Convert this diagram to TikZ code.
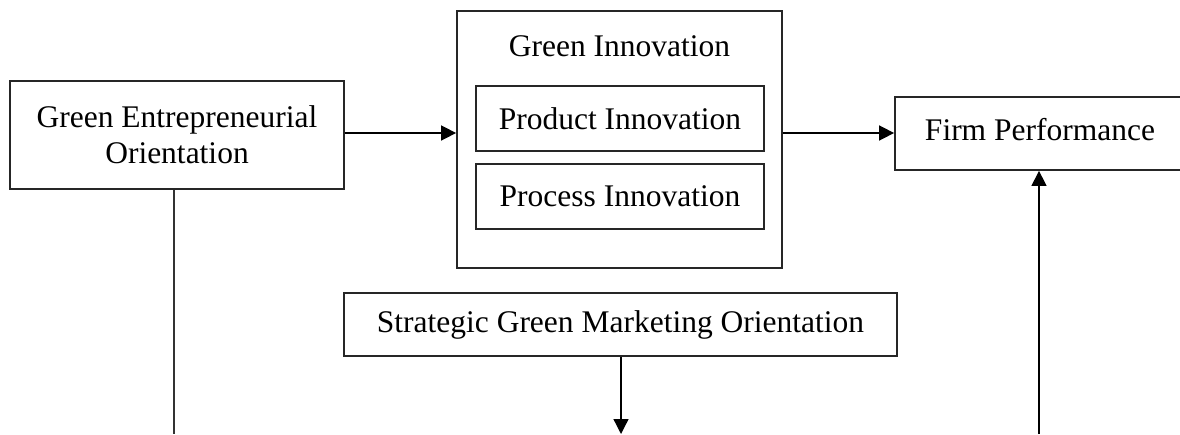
\documentclass[tikz,border=0pt]{standalone}
\usepackage{fontspec}
\setmainfont{Liberation Serif}
\usetikzlibrary{arrows.meta}
\begin{document}
\begin{tikzpicture}[x=1pt,y=-1pt,
  boxstyle/.style={draw=black!85, line width=1.8pt, inner sep=0pt, align=center,
    font=\fontsize{31.5}{36}\selectfont},
  conn/.style={line width=1.6pt, -{Triangle[length=15pt,width=15pt]}},
  plainline/.style={line width=1.5pt, draw=black!80}]
\useasboundingbox (0,0) rectangle (1180,434);
\clip (0,0) rectangle (1180,434);
% Green Entrepreneurial Orientation
\node[boxstyle, minimum width=334pt, minimum height=108pt] (geo) at (177,135)
  {Green Entrepreneurial\\Orientation};
% Green Innovation outer box
\node[boxstyle, minimum width=325pt, minimum height=257pt] (gi) at (619.5,139.5) {};
\node[font=\fontsize{31.5}{36}\selectfont, inner sep=0pt] (gititle) at (619.5,46) {Green Innovation};
\node[boxstyle, minimum width=288pt, minimum height=65pt] (prod) at (620,118.5) {Product Innovation};
\node[boxstyle, minimum width=288pt, minimum height=65pt] (proc) at (620,196.5) {Process Innovation};
% Firm Performance (extends past right edge)
\node[boxstyle, minimum width=330pt, minimum height=73pt] (fp) at (1060,133.5) {};
\node[font=\fontsize{31.5}{36}\selectfont, inner sep=0pt] (fptext) at (1040,130) {Firm Performance};
% Strategic Green Marketing Orientation
\node[boxstyle, minimum width=553pt, minimum height=63pt] (sgmo) at (620.5,324.5)
  {Strategic Green Marketing Orientation};
% free ends
\coordinate (geoend) at (174,434);
\coordinate (sgmoend) at (621,434);
\coordinate (fpstart) at (1039,434);
% connectors
\draw[conn] (geo.east |- 0,133) -- (gi.west |- 0,133);
\draw[conn] (gi.east |- 0,133) -- (fp.west |- 0,133);
\draw[plainline] (geo.south -| geoend) -- (geoend);
\draw[conn, line width=1.3pt] (sgmo.south -| sgmoend) -- (sgmoend);
\draw[conn, line width=1.3pt] (fpstart) -- (fp.south -| fpstart);
\end{tikzpicture}
\end{document}
